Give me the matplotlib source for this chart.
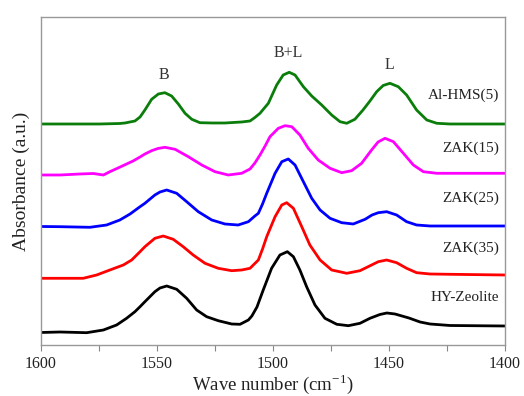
import matplotlib
matplotlib.use("Agg")
import matplotlib.pyplot as plt
from matplotlib.ticker import MultipleLocator

plt.rcParams['font.family'] = ['Liberation Serif', 'DejaVu Serif']
plt.rcParams['mathtext.fontset'] = 'custom'
plt.rcParams['mathtext.rm'] = 'Liberation Serif'

# wavenumber (cm-1) / absorbance (a.u., stacked)
hms5_w = [1600, 1587.5, 1574.6, 1566, 1563.8, 1559.5, 1557.3, 1555.2, 1552.3, 1549.4,
          1546.6, 1543.7, 1540.8, 1537.9, 1535, 1531.5, 1526.3, 1520.7, 1513.5, 1509.9,
          1507.8, 1505.6, 1502, 1498.4, 1495.6, 1493, 1490.5, 1486.9, 1483.3, 1479,
          1474.7, 1471.1, 1468.2, 1464.7, 1461.2, 1458.2, 1455.3, 1452.5, 1449.6, 1446,
          1442.4, 1438.1, 1433.7, 1429.4, 1423.7, 1412.9, 1400]
hms5_a = [2.21, 2.21, 2.21, 2.215, 2.22, 2.24, 2.28, 2.35, 2.457, 2.51,
          2.523, 2.49, 2.41, 2.317, 2.257, 2.223, 2.22, 2.22, 2.23, 2.24,
          2.275, 2.317, 2.417, 2.60, 2.70, 2.727, 2.70, 2.583, 2.49, 2.40,
          2.30, 2.233, 2.217, 2.257, 2.35, 2.44, 2.533, 2.595, 2.617, 2.583,
          2.50, 2.35, 2.25, 2.217, 2.21, 2.21, 2.21]

zak15_w = [1600, 1591.8, 1583.2, 1577.5, 1573.1, 1570.3, 1566.8, 1563.1, 1560.3, 1557.3,
           1555.2, 1552.3, 1549.6, 1546.6, 1542.2, 1536.5, 1530.7, 1525, 1519.3, 1513.5,
           1509.9, 1507.8, 1505.6, 1503.4, 1501.3, 1497.7, 1494.8, 1491.9, 1488.4, 1484.8,
           1480.5, 1475.4, 1470.4, 1466.1, 1461.8, 1457.5, 1454.7, 1451.7, 1448.1, 1443.8,
           1439.5, 1435.2, 1429.4, 1423.7, 1400]
zak15_a = [1.70, 1.70, 1.71, 1.715, 1.70, 1.733, 1.77, 1.81, 1.84, 1.88,
           1.91, 1.943, 1.965, 1.977, 1.957, 1.883, 1.80, 1.733, 1.70, 1.717,
           1.76, 1.82, 1.90, 1.99, 2.083, 2.167, 2.193, 2.183, 2.10, 1.967,
           1.85, 1.767, 1.723, 1.743, 1.817, 1.95, 2.03, 2.067, 2.033, 1.917,
           1.80, 1.733, 1.717, 1.717, 1.717]

zak25_w = [1600, 1591.8, 1578.9, 1571.7, 1566, 1561.6, 1557.3, 1555.2, 1550.9, 1548.7,
           1545.8, 1541.5, 1537.2, 1532.2, 1526.4, 1520.7, 1515, 1510.6, 1507.8, 1506.3,
           1504.5, 1502.7, 1499.1, 1496.2, 1493.4, 1490.5, 1486.9, 1483.3, 1479.7, 1475.4,
           1470.4, 1465.4, 1460.3, 1457.3, 1454.6, 1451, 1446.7, 1442.4, 1438.1, 1432.3,
           1423.7, 1400]
zak25_a = [1.185, 1.183, 1.177, 1.20, 1.25, 1.31, 1.383, 1.417, 1.50, 1.53,
           1.55, 1.517, 1.433, 1.333, 1.25, 1.21, 1.20, 1.233, 1.29, 1.317,
           1.41, 1.517, 1.717, 1.833, 1.86, 1.80, 1.633, 1.467, 1.35, 1.267,
           1.223, 1.21, 1.257, 1.30, 1.323, 1.333, 1.30, 1.233, 1.20, 1.19,
           1.19, 1.19]

zak35_w = [1600, 1591.8, 1581.8, 1576, 1570.3, 1564.5, 1560.9, 1557.3, 1555.2, 1550.9,
           1547.3, 1543, 1538.7, 1534.4, 1529.3, 1523.6, 1517.8, 1513.5, 1509.9, 1506.3,
           1504.5, 1502.7, 1499.1, 1496.2, 1494.1, 1491.2, 1487.6, 1484.1, 1479.7, 1474.7,
           1468.2, 1462.5, 1457.5, 1454.6, 1451, 1446.7, 1442.4, 1438.1, 1432.3, 1423.7,
           1400]
zak35_a = [0.667, 0.667, 0.667, 0.70, 0.75, 0.80, 0.85, 0.933, 0.983, 1.067,
           1.09, 1.057, 0.983, 0.90, 0.817, 0.767, 0.743, 0.75, 0.767, 0.85,
           0.96, 1.083, 1.283, 1.40, 1.423, 1.367, 1.183, 1.00, 0.85, 0.75,
           0.717, 0.743, 0.80, 0.833, 0.85, 0.823, 0.767, 0.723, 0.71, 0.707,
           0.70]

hy_w = [1600, 1591.8, 1580.3, 1573.1, 1567.4, 1563.1, 1559.5, 1557.3, 1555.2, 1550.9,
        1548.7, 1545.8, 1541.5, 1537.2, 1532.9, 1528.6, 1523.6, 1517.8, 1514.2, 1510.6,
        1509.1, 1506.9, 1504.2, 1500.6, 1497, 1493.8, 1491.2, 1488.4, 1485.5, 1481.9,
        1477.6, 1472.5, 1467.5, 1462.5, 1458.2, 1453.9, 1450.9, 1447.4, 1441.4, 1436.6,
        1432.3, 1423.7, 1400]
hy_a = [0.125, 0.13, 0.123, 0.15, 0.20, 0.267, 0.333, 0.383, 0.433, 0.533,
        0.57, 0.59, 0.557, 0.467, 0.35, 0.283, 0.243, 0.21, 0.207, 0.25,
        0.29, 0.38, 0.55, 0.767, 0.90, 0.933, 0.883, 0.75, 0.583, 0.40,
        0.267, 0.207, 0.193, 0.217, 0.267, 0.305, 0.32, 0.31, 0.27, 0.23,
        0.21, 0.195, 0.19]

names = ['Al-HMS(5)', 'ZAK(15)', 'ZAK(25)', 'ZAK(35)', 'HY-Zeolite']
colors = ['#0b7d0b', '#ff00ff', '#0000ff', '#ff0000', '#000000']
label_y = [2.50, 1.97, 1.47, 0.97, 0.47]

bands = ['B', 'B+L', 'L']
band_w = [1547, 1493.5, 1450]
band_y = [2.70, 2.92, 2.80]

series = [(hms5_w, hms5_a), (zak15_w, zak15_a), (zak25_w, zak25_a),
          (zak35_w, zak35_a), (hy_w, hy_a)]

fig = plt.figure(figsize=(5.24, 3.96), dpi=100)
ax = fig.add_axes([0.0782, 0.1288, 0.8855, 0.8283])

for (w, a), c in zip(series, colors):
    ax.plot(w, a, color=c, lw=2.0, solid_joinstyle='round', solid_capstyle='round')

for name, y in zip(names, label_y):
    ax.text(1402.5, y, name, ha='right', va='center', fontsize=11, color='#222222')

for b, w, y in zip(bands, band_w, band_y):
    ax.text(w, y, b, ha='center', va='center', fontsize=11.5, color='#333333')

ax.set_xlim(1600, 1400)
ax.set_ylim(0, 3.28)
ax.xaxis.set_major_locator(MultipleLocator(50))
ax.xaxis.set_minor_locator(MultipleLocator(25))
ax.set_yticks([])
ax.tick_params(axis='x', which='both', direction='out', length=4, width=0.8,
               color='#888888', labelsize=11.5, labelcolor='#222222', pad=4)
for s in ax.spines.values():
    s.set_color('#999999')
    s.set_linewidth(1.0)

ax.set_xlabel('Wave number (cm$^{-1}$)', fontsize=13.5, color='#222222', labelpad=0)
ax.set_ylabel('Absorbance (a.u.)', fontsize=14, color='#222222', labelpad=8)

fig.savefig('out.png', dpi=100)
